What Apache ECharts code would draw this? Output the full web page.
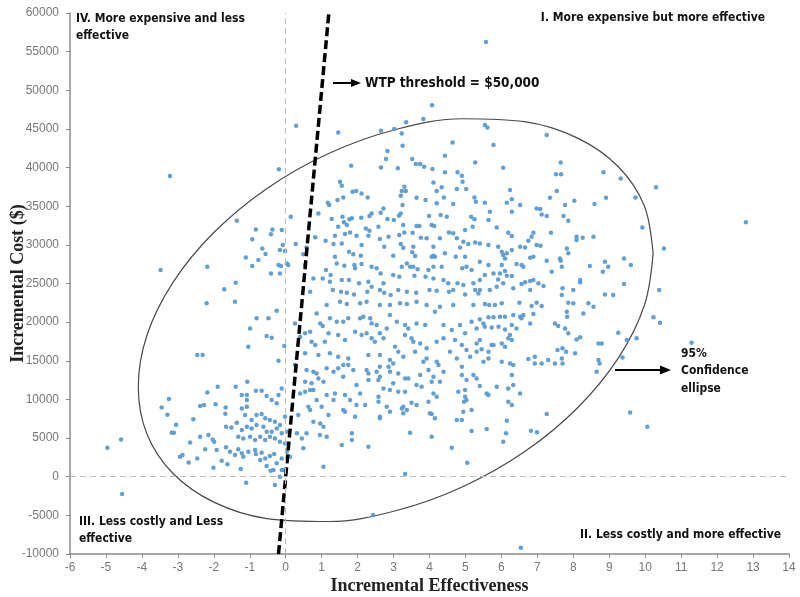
<!DOCTYPE html>
<html><head><meta charset="utf-8">
<script src="https://cdn.jsdelivr.net/npm/echarts/dist/echarts.min.js"></script>
<style>html,body{margin:0;padding:0;background:#fff}#c{width:800px;height:597px}</style>
</head><body><div id="c"></div>
<script>
// Axis settings
const xAxisRange = [-6, 14];
const xAxisInterval = 1;
const yAxisRange = [-10000, 60000];
const yAxisInterval = 5000;

// WTP threshold line (cost = threshold * effectiveness)
const wtpThreshold = 50000;
const wtpCostRange = [-10000, 60000];

// 95% confidence ellipse vertices [effectiveness, cost]
const ellipsePath = [
 [10.22,28896],[9.98,34984],[9.26,40069],[8.12,43806],[6.64,45935],[4.91,46317],[3.06,44921],[1.21,41846],
 [-0.52,37300],[-2.00,31593],[-3.14,25112],[-3.86,18300],[-4.10,11624],[-3.86,5536],[-3.14,451],[-2.00,-3286],
 [-0.52,-5415],[1.21,-5797],[3.06,-4401],[4.91,-1326],[6.64,3220],[8.12,8927],[9.26,15408],[9.98,22220],[10.22,28896]
];

// Bootstrap replicates [incremental effectiveness, incremental cost]
const ptsLowerLeft = [
 [-2.20,22430],[-1.41,22640],[-0.81,20490],[-0.48,20490],[-0.25,21480],[-0.99,19190],[-0.53,18200],[-0.39,17990],[-0.04,16910],[-1.04,16820],
 [-0.20,15010],[-2.46,15740],[-2.31,15740],[-1.07,12290],[-0.11,11430],[-1.89,11650],[-1.39,11650],[-2.18,10910],[-3.25,10050],[-3.45,8970],
 [-3.29,8020],[-2.38,9140],[-2.27,9270],[-1.95,9360],[-1.67,8970],[-1.68,8150],[-1.22,10570],[-1.08,10570],[-1.08,9920],[-0.83,11130],
 [-0.67,11130],[-0.53,10440],[-0.39,9920],[-0.25,9490],[-0.20,10570],[-1.22,8840],[-1.08,9060],[-1.13,7980],[-0.95,7330],[-0.81,7980],
 [-0.67,8110],[-0.57,7550],[-0.44,7330],[-0.30,7120],[-0.16,6690],[-0.02,7760],[-2.57,7420],[-3.05,6730],[-3.17,5690],[-3.11,5690],
 [-1.66,6470],[-1.51,6380],[-1.36,6990],[-1.22,6040],[-1.08,6470],[-0.95,6250],[-0.81,6690],[-0.62,6470],[-0.53,5820],[-0.39,5820],
 [-0.25,6250],[-0.11,5610],[0.03,5820],[-2.38,5180],[-2.15,5390],[-2.03,4830],[-1.99,4530],[-1.32,5180],[-1.18,4960],[-0.99,5180],
 [-0.85,4740],[-0.71,5180],[-0.57,4740],[-0.44,5180],[-0.30,4960],[-0.16,4530],[-0.02,4310],[-2.66,4440],[-4.58,4830],[-4.96,3750],
 [-2.94,2590],[-2.87,2800],[-2.70,1850],[-2.46,2370],[-2.24,3540],[-1.92,3450],[-1.66,3800],[-1.55,3230],[-1.41,2800],[-1.32,3540],
 [-1.22,3020],[-1.18,2590],[-1.04,3230],[-0.85,3450],[-0.83,2930],[-0.67,3110],[-0.57,2370],[-0.44,2670],[-0.32,2930],[-0.25,1730],
 [-0.11,2370],[0.03,3230],[-1.78,2070],[-1.62,1600],[-2.01,1160],[-1.25,990],[-0.71,2160],[-0.53,1380],[-0.42,780],[-0.34,860],
 [-0.11,860],[-1.10,-780],[-0.30,-1080],[-0.16,0],[-0.08,870],[-4.55,-2240]
];
const ptsUpperLeft = [
 [-1.36,33120],[-0.83,32000],[-0.37,32000],[-0.11,31920],[-0.93,30710],[-0.41,31360],[-0.65,29540],[-0.56,28810],[-1.11,28380],[-0.76,28030],
 [-0.93,27260],[-0.41,26310],[-0.20,27390],[-0.13,27260],[-3.48,26740],[-2.18,27170],[-1.39,25100],[-1.71,24240],[-3.22,38910],[-0.19,39790],
 [-0.08,29980],[-0.02,29200],[-0.16,26310],[-0.16,29330]
];
const ptsUpperMid = [
 [0.29,45420],[1.46,44550],[2.65,44760],[3.02,44980],[3.35,45850],[3.83,46280],[3.23,44420],[3.25,42830],[4.64,43260],[2.83,42140],
 [2.79,41100],[1.82,40240],[2.65,40020],[3.12,39900],[3.52,41100],[3.62,40460],[3.74,40460],[3.85,40110],[4.08,39810],[4.43,41530],
 [4.43,39380],[4.78,39380],[4.90,38950],[4.92,38170],[5.27,40670],[1.51,38170],[1.56,37650],[1.86,36880],[1.96,36960],[2.11,36660],
 [1.60,36140],[1.44,35800],[2.28,36140],[3.30,37520],[3.34,36960],[3.23,36960],[3.20,36360],[3.64,36100],[4.11,38080],[4.20,36960],
 [4.34,37440],[4.40,36140],[4.76,37220],[5.02,37220],[5.25,36140],[5.29,35580],[1.21,35150],[1.17,35450],[2.72,34720],[2.64,34160],
 [3.25,35150],[3.89,35800],[4.20,35370],[4.66,35280],[0.91,34070],[1.58,33640],[1.77,33300],[1.84,33430],[2.10,33510],[2.33,33730],
 [2.39,34070],[2.58,32350],[2.83,33340],[3.01,33210],[3.15,33770],[3.20,34070],[3.99,33730],[4.31,33860],[4.48,33640],[5.16,33640],
 [5.25,33300],[0.14,33640],[1.28,33340],[1.46,32350],[1.62,32910],[1.70,32560],[2.23,32130],[2.33,31830],[3.27,32560],[3.64,32430],
 [3.72,32430],[4.06,32560],[4.13,32430],[4.54,31610],[4.66,31490],[4.99,31920],[5.20,32350],[1.37,31180],[1.65,31400],[1.79,31610],
 [1.97,31180],[2.30,31180],[2.62,30750],[2.86,31050],[3.16,31270],[3.30,31610],[3.53,31570],[3.76,30920],[3.92,30840],[4.29,30840],
 [4.76,30840],[4.94,30410],[5.27,30320],[0.82,30970],[1.11,30540],[0.28,30110],[0.58,29670],[1.33,30110],[1.56,30190],[2.11,29980],
 [2.74,29760],[3.20,30110],[3.27,29630],[3.55,29760],[4.11,29760],[4.85,29670],[5.08,30110],[0.49,28770],[1.37,28470],[1.76,29110],
 [1.88,28770],[2.09,28600],[2.99,28600],[3.52,29030],[3.60,28560],[4.06,28470],[4.11,28600],[4.15,28470],[4.43,28900],[4.73,28470],
 [4.99,28470],[1.12,26740],[1.25,26090],[1.42,27600],[1.63,27300],[1.91,27390],[2.11,27520],[1.93,26960],[2.39,27170],[2.53,26960],
 [2.64,26310],[3.23,27170],[3.37,27600],[3.46,27170],[3.55,27170],[3.67,26830],[3.97,26740],[4.11,27170],[4.34,27170],[4.91,26960],
 [5.03,27170],[5.17,26740],[1.03,25660],[1.23,25230],[1.56,25450],[1.76,25450],[2.04,25020],[2.30,25230],[2.39,24580],[2.72,25020],
 [2.99,26090],[3.16,25880],[3.58,26010],[3.89,25880],[4.11,25660],[4.39,25450],[4.52,25020],[4.78,25020],[4.94,24800],[5.22,25020],
 [1.31,24150],[1.54,23940],[1.70,23810],[1.90,23590],[2.27,23940],[2.62,24150],[2.74,23810],[2.92,23510],[3.13,24150],[3.37,23940],
 [3.63,23810],[4.00,24150],[4.20,24070],[4.54,23940],[4.66,24150],[4.99,23590],[5.27,24150],[5.36,23720],[0.68,23940],[0.77,25660],
 [0.07,27390],[0.54,27390],[0.03,27600]
];
const ptsLowerMid = [
 [0.86,21130],[1.14,22210],[1.51,22640],[1.70,22340],[2.07,22430],[2.25,22640],[2.62,22210],[2.90,22210],[3.18,22430],[3.37,22340],
 [3.64,22640],[3.92,22210],[4.29,22000],[4.66,22210],[5.22,22210],[0.26,19840],[0.54,18550],[0.68,18760],[0.96,19840],[1.03,19490],
 [1.23,20490],[1.42,20060],[1.60,20060],[1.74,20490],[2.07,20490],[2.16,20700],[2.35,20490],[2.39,19840],[2.53,19620],[2.90,20920],
 [3.09,20060],[3.32,19620],[3.41,19190],[3.64,19840],[3.88,19620],[4.15,21350],[4.39,19620],[4.62,18980],[4.85,19620],[4.99,18550],
 [5.17,20060],[5.31,19190],[0.40,18120],[0.72,17470],[0.82,17040],[1.09,17470],[1.19,18550],[1.46,18330],[1.65,17680],[1.93,18760],
 [2.11,18330],[2.25,18550],[2.39,17900],[2.48,17470],[2.62,18550],[2.72,17900],[2.81,19190],[3.04,16820],[3.13,16170],[3.32,18330],
 [3.50,17900],[3.55,17470],[3.74,17250],[3.92,16610],[4.20,17470],[4.39,17900],[4.71,17680],[4.90,17040],[5.03,16390],[5.31,17250],
 [0.54,15960],[0.91,15740],[1.23,15960],[1.46,15530],[1.74,15310],[2.30,15740],[2.62,15740],[2.90,15100],[2.99,14660],[3.27,15530],
 [3.60,16170],[3.83,14880],[3.92,15310],[4.20,14880],[4.25,14450],[4.57,16170],[4.76,15310],[5.13,15530],[5.31,16170],[0.26,14450],
 [0.58,13800],[0.77,13590],[0.86,13370],[1.14,14020],[1.46,14020],[1.60,14450],[1.74,14450],[1.88,13800],[2.25,13800],[2.30,13370],
 [2.53,13590],[2.62,14230],[2.86,14230],[2.90,13590],[3.13,13370],[3.41,12720],[3.74,13150],[3.97,13800],[4.11,12940],[4.39,13590],
 [4.90,13150],[5.22,13150],[4.90,14230],[0.54,12290],[0.72,12080],[0.91,12720],[1.05,12290],[1.33,13590],[1.60,12940],[1.97,11860],
 [2.30,12510],[2.58,12510],[2.62,12940],[2.99,12080],[3.32,12720],[3.64,11860],[3.78,11650],[4.06,12290],[4.29,12290],[5.03,12510],
 [5.31,12720],[0.40,10780],[0.54,11000],[0.68,11220],[0.77,11220],[1.14,10570],[1.37,10780],[1.65,10570],[2.07,10780],[2.58,10350],
 [2.72,11430],[2.90,11220],[3.13,11000],[3.32,11000],[4.11,10780],[4.80,11000],[4.99,11220],[0.86,9920],[1.33,9920],[1.79,9920],
 [1.97,9270],[2.58,9700],[2.81,9060],[3.27,9060],[3.37,8630],[3.64,9270],[3.97,9700],[4.20,10350],[4.99,10350],[5.03,9920],
 [0.63,9060],[0.68,8630],[1.00,9060],[1.60,8630],[1.65,8410],[1.93,7760],[2.62,7550],[2.90,8410],[3.23,8840],[3.27,8200],
 [4.01,8200],[4.15,7550],[4.76,7330],[4.90,7330],[5.17,8630],[0.35,7980],[0.77,7120],[0.96,6900],[1.05,6470],[1.14,5180],
 [1.19,7980],[1.84,5610],[1.84,4740],[1.56,4100],[2.30,3880],[3.46,5690],[4.06,5180],[4.62,3750],[5.17,5910],[1.05,1290],
 [5.05,1810],[3.32,350],[0.45,4960],[0.49,3670],[0.31,5610],[0.12,2590],[0.58,5610],[0.95,5390],[2.43,-4960],[4.06,8110],
 [4.94,8410],[4.96,9700],[3.50,9580],[2.21,9270],[2.62,7760]
];
const ptsUpperRight = [
 [5.54,45500],[5.61,45200],[5.78,42920],[7.26,44210],[6.05,39980],[7.65,40670],[7.52,39120],[7.66,39120],[8.84,39380],[9.32,38600],
 [10.30,37440],[7.54,36970],[7.35,36110],[6.24,37100],[6.29,35890],[6.15,35450],[5.54,35450],[6.52,35150],[7.77,35150],[8.03,35710],
 [8.59,35280],[8.91,36110],[9.73,36140],[6.98,34720],[7.08,34630],[7.12,33940],[7.26,33730],[7.73,33730],[7.86,33120],[6.29,34290],
 [5.68,34290],[5.64,33210],[5.87,32260],[9.92,32260],[7.38,31570],[6.19,31570],[6.29,31140],[6.89,31570],[6.84,31050],[6.75,30540],
 [8.09,31050],[8.09,30620],[8.26,30920],[8.56,31050],[10.52,29540],[5.40,30190],[5.64,29980],[5.91,29760],[6.01,29120],[6.05,28690],
 [6.15,28900],[6.29,29330],[6.10,28250],[6.52,29760],[6.66,29670],[6.98,29980],[7.09,29890],[7.82,29540],[7.86,28900],[6.80,28340],
 [6.89,28470],[7.63,28250],[7.65,27950],[7.26,27950],[5.40,27820],[5.64,27390],[6.01,27390],[6.42,27520],[6.56,27390],[6.61,27170],
 [7.68,27170],[8.46,27260],[8.88,27820],[8.97,27170],[9.41,28250],[9.60,27390],[8.82,26530],[7.40,26530],[5.78,26310],[5.96,26310],
 [6.10,26610],[6.15,26010],[6.29,25960],[5.54,26090],[5.40,25450],[5.91,25530],[6.05,25020],[6.56,24930],[6.66,25150],[6.80,25320],
 [6.89,25450],[7.03,25020],[7.17,24670],[8.19,25450],[8.19,25150],[9.41,24930],[10.39,24150],[7.70,24370],[5.40,24150],[5.68,24150],
 [5.87,24580],[6.33,24370],[6.80,24150],[8.00,24150],[8.88,23590],[9.11,23500],[7.68,23500]
];
const ptsLowerRight = [
 [5.54,22340],[5.66,22210],[5.82,22210],[6.01,22430],[6.50,22510],[6.84,22080],[6.98,22510],[7.12,22080],[7.86,22510],[8.00,22430],
 [8.42,22430],[8.56,22000],[5.40,20360],[5.64,20620],[5.78,20620],[5.96,20700],[6.10,20700],[6.33,20920],[6.52,20700],[6.61,20920],
 [5.50,19840],[5.54,19410],[5.73,19320],[5.92,19410],[6.10,19060],[6.29,19620],[6.42,19190],[6.56,20490],[6.80,19840],[6.89,21050],
 [7.49,19840],[7.58,19490],[7.82,21350],[7.83,20700],[8.28,21130],[7.77,19190],[7.86,18550],[5.40,17680],[5.73,17040],[5.78,17040],
 [6.01,17250],[6.19,17900],[6.24,18330],[6.29,17680],[6.10,16820],[5.45,16480],[5.64,16170],[5.50,14880],[5.64,15310],[6.01,14880],
 [6.24,14660],[6.33,14450],[6.75,15220],[6.93,15530],[6.93,14660],[7.12,14660],[7.30,15100],[7.49,14660],[7.68,15310],[7.70,14660],
 [7.56,16390],[7.70,16610],[7.80,16170],[8.05,15960],[8.09,17770],[8.19,18030],[8.70,17250],[8.79,17250],[8.70,15100],[8.73,14660],
 [8.65,13590],[9.25,18630],[9.49,17680],[9.76,17900],[10.23,20620],[10.41,19930],[9.37,15440],[6.29,13150],[6.33,11860],[6.19,11430],
 [6.52,10780],[5.87,11650],[5.64,10570],[5.59,10780],[5.40,11730],[5.59,6170],[6.05,4530],[6.13,5610],[6.15,7250],[6.19,9700],
 [6.29,9270],[6.82,5950],[6.99,5740],[7.26,8110],[9.58,8320],[10.06,6470]
];
const ptsOutliers = [[5.57,56250],[4.07,48060],[12.80,32940],[11.29,17340],[6.54,-9190]];

const allPoints = [].concat(ptsLowerLeft, ptsUpperLeft, ptsUpperMid, ptsLowerMid, ptsUpperRight, ptsLowerRight, ptsOutliers);
const wtpLine = wtpCostRange.map(c => [c / wtpThreshold, c]);

const annoFont = '"DejaVu Sans Condensed", "DejaVu Sans", Verdana, sans-serif';
const titleFont = '"Liberation Serif", "Times New Roman", serif';

const chart = echarts.init(document.getElementById('c'), null, {renderer: 'canvas'});
chart.setOption({
  animation: false,
  backgroundColor: '#ffffff',
  grid: {left: 70, right: 11, top: 13, bottom: 43, containLabel: false, outerBoundsMode: 'none'},
  xAxis: {
    type: 'value', min: xAxisRange[0], max: xAxisRange[1], interval: xAxisInterval,
    name: 'Incremental Effectiveness', nameLocation: 'middle', nameGap: 23, nameMoveOverlap: false,
    nameTextStyle: {fontFamily: titleFont, fontWeight: 'bold', fontSize: 18, color: '#222'},
    axisLine: {show: true, onZero: false, lineStyle: {color: '#8a8a8a', width: 1.5}},
    axisTick: {show: true, length: 4, lineStyle: {color: '#8a8a8a'}},
    axisLabel: {color: '#777', fontSize: 12, fontFamily: '"Liberation Sans", Arial, sans-serif', margin: 8, formatter: v => String(v)},
    splitLine: {show: false}
  },
  yAxis: {
    type: 'value', min: yAxisRange[0], max: yAxisRange[1], interval: yAxisInterval,
    name: 'Incremental Cost ($)', nameLocation: 'middle', nameGap: 43, nameMoveOverlap: false,
    nameTextStyle: {fontFamily: titleFont, fontWeight: 'bold', fontSize: 18, color: '#222'},
    axisLine: {show: true, onZero: false, lineStyle: {color: '#8a8a8a', width: 1.5}},
    axisTick: {show: true, length: 4, lineStyle: {color: '#8a8a8a'}},
    axisLabel: {color: '#777', fontSize: 12, fontFamily: '"Liberation Sans", Arial, sans-serif', margin: 11, formatter: v => String(v)},
    splitLine: {show: false}
  },
  series: [
    {
      type: 'line', data: ellipsePath, showSymbol: false, symbol: 'none', smooth: 0.35,
      lineStyle: {color: '#4a4a4a', width: 1.2}, z: 2, silent: true
    },
    {
      type: 'scatter', data: allPoints, symbol: 'circle', symbolSize: 4.5,
      itemStyle: {color: '#5b9bcf', opacity: 0.95}, z: 3,
      markLine: {
        silent: true, symbol: 'none', label: {show: false},
        lineStyle: {type: [6, 4], color: '#bdbdbd', width: 1},
        data: [{xAxis: 0}, {yAxis: 0}]
      }
    },
    {
      type: 'line', data: wtpLine, showSymbol: false, symbol: 'none',
      lineStyle: {color: '#000', width: 3.5, type: [9, 4]}, z: 4, silent: true
    }
  ],
  graphic: [
    {type: 'text', x: 76, y: 10.5, z: 10, style: {text: 'IV. More expensive and less\neffective', font: 'bold 12px ' + annoFont, fill: '#111', lineHeight: 17, textVerticalAlign: 'top'}},
    {type: 'text', x: 765, y: 9.5, z: 10, style: {text: 'I. More expensive but more effective', font: 'bold 12px ' + annoFont, fill: '#111', textAlign: 'right', lineHeight: 17, textVerticalAlign: 'top'}},
    {type: 'text', x: 79, y: 513.5, z: 10, style: {text: 'III. Less costly and Less\neffective', font: 'bold 12px ' + annoFont, fill: '#111', lineHeight: 17, textVerticalAlign: 'top'}},
    {type: 'text', x: 580, y: 526.5, z: 10, style: {text: 'II. Less costly and more effective', font: 'bold 12px ' + annoFont, fill: '#111', lineHeight: 17, textVerticalAlign: 'top'}},
    {type: 'text', x: 365, y: 74, z: 10, style: {text: 'WTP threshold = $50,000', font: 'bold 13.5px ' + annoFont, fill: '#111', lineHeight: 18, textVerticalAlign: 'top'}},
    {type: 'line', z: 10, shape: {x1: 333, y1: 83, x2: 353, y2: 83}, style: {stroke: '#000', lineWidth: 2}},
    {type: 'polygon', z: 10, shape: {points: [[351, 79], [361, 83], [351, 87]]}, style: {fill: '#000'}},
    {type: 'text', x: 681, y: 345, z: 10, style: {text: '95%\nConfidence\nellipse', font: 'bold 12px ' + annoFont, fill: '#111', lineHeight: 17.5, textVerticalAlign: 'top'}},
    {type: 'line', z: 10, shape: {x1: 615, y1: 370, x2: 662, y2: 370}, style: {stroke: '#000', lineWidth: 2}},
    {type: 'polygon', z: 10, shape: {points: [[660, 365.5], [671, 370], [660, 374.5]]}, style: {fill: '#000'}}
  ]
});
</script>
</body></html>
